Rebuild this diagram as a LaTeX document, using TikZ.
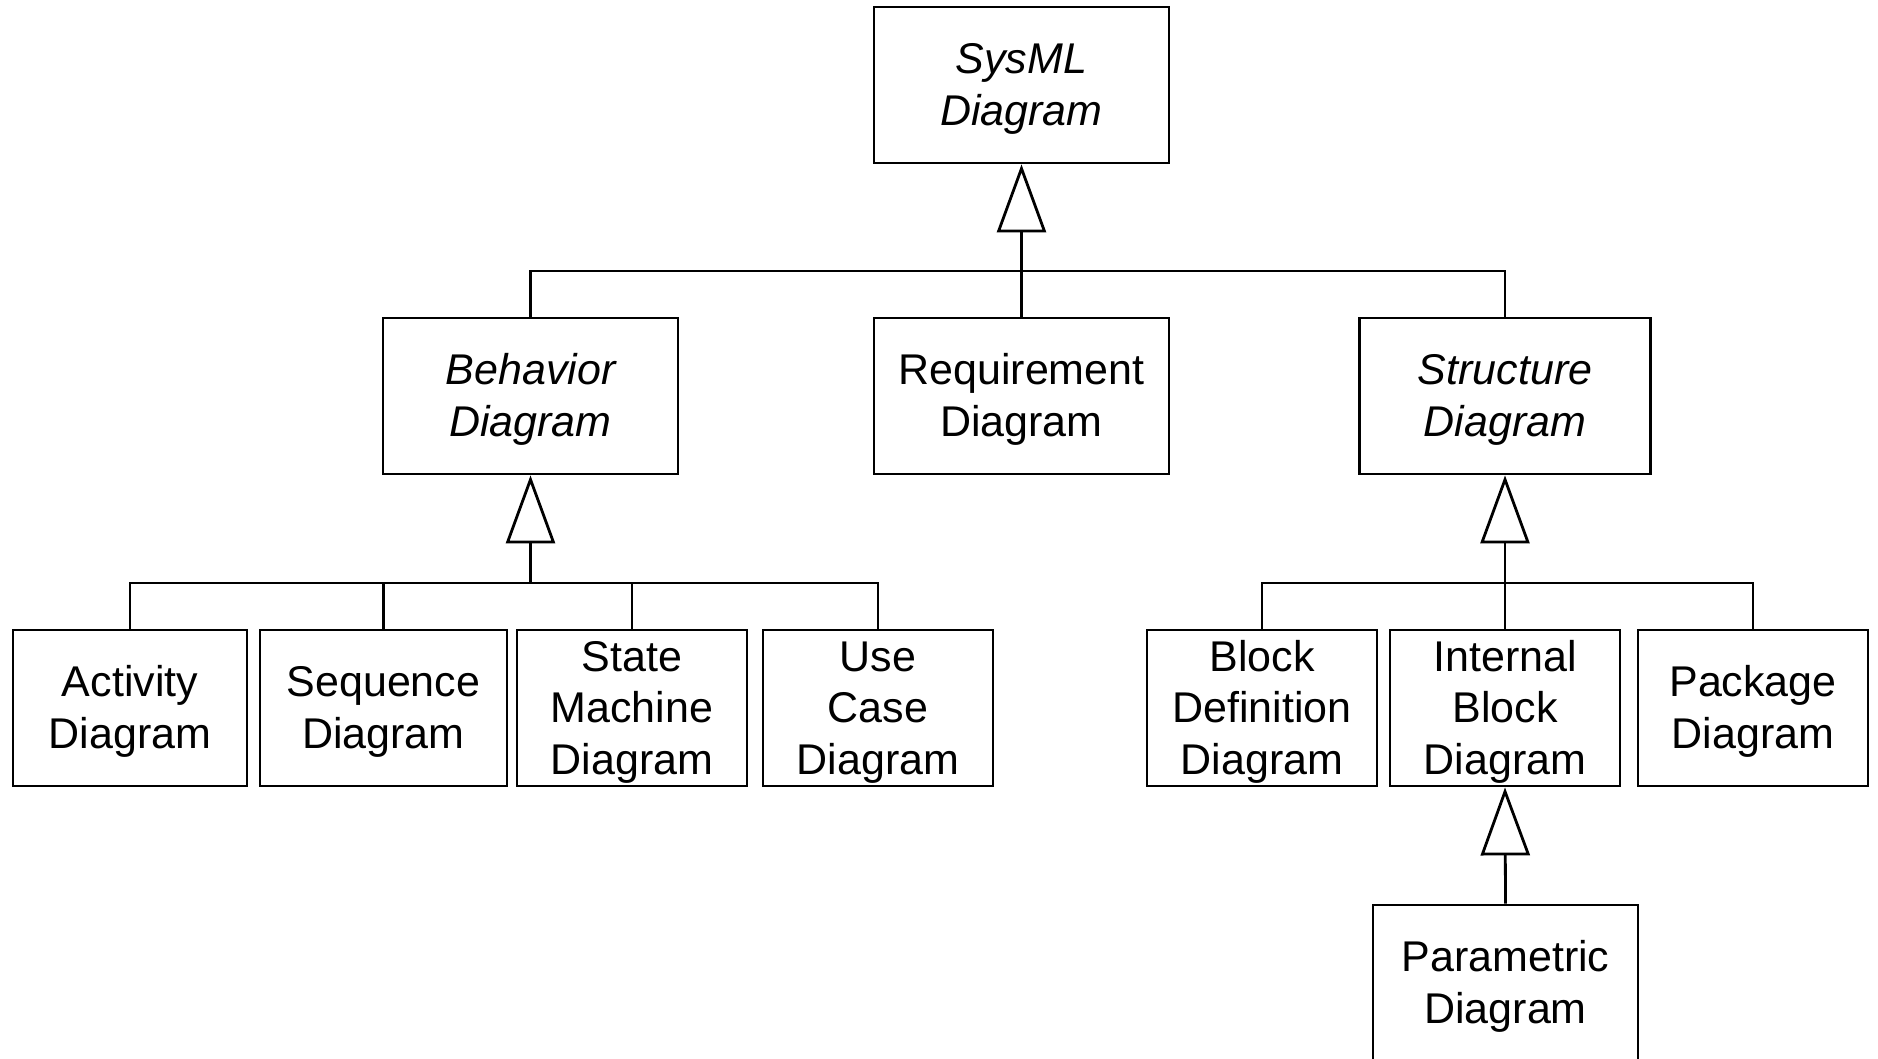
\documentclass[tikz,border=0pt]{standalone}
\usepackage{fontspec}
\setmainfont{Liberation Sans}
\usetikzlibrary{arrows.meta}

\newcommand{\boxstrut}{\rule{0pt}{38pt}}

\begin{document}
\begin{tikzpicture}[
		x=1pt, y=-1pt,
		line width=2.8pt,
		box/.style={draw, rectangle, inner sep=0pt, minimum height=156pt, align=center,
			font=\fontsize{43}{51.5}\selectfont},
		abstract/.style={box, font=\fontsize{43}{51.5}\selectfont\itshape},
		gen/.style={-{Triangle[open, length=68pt, width=49pt]}}
	]
		\useasboundingbox (0,0) rectangle (1878,1059);

		%top
		\node[abstract, minimum width=295pt] (sysml) at (1021.5,85) {\boxstrut SysML\\Diagram};

		%middle row
		\node[abstract, minimum width=295pt] (beh) at (530.5,396) {\boxstrut Behavior\\Diagram};
		\node[box, minimum width=295pt] (req) at (1021.5,396) {\boxstrut Requirement\\Diagram};
		\node[abstract, minimum width=291pt] (str) at (1505,396) {\boxstrut Structure\\Diagram};

		%behavior kinds
		\node[box, minimum width=234pt] (act) at (130,708) {\boxstrut Activity\\Diagram};
		\node[box, minimum width=247pt] (seq) at (383.5,708) {\boxstrut Sequence\\Diagram};
		\node[box, minimum width=230pt] (sm) at (632,708) {\boxstrut State\\Machine\\Diagram};
		\node[box, minimum width=230pt] (uc) at (878,708) {\boxstrut Use\\Case\\Diagram};

		%structure kinds
		\node[box, minimum width=230pt] (bdd) at (1262,708) {\boxstrut Block\\Definition\\Diagram};
		\node[box, minimum width=230pt] (ibd) at (1505,708) {\boxstrut Internal\\Block\\Diagram};
		\node[box, minimum width=230pt] (pkg) at (1753,708) {\boxstrut Package\\Diagram};
		\node[box, minimum width=265pt] (par) at (1505.5,983) {\boxstrut Parametric\\Diagram};

		%generalization to sysml
		\coordinate (topbar) at (1021.5,271);
		\draw[gen] (req.north) -- (sysml.south);
		\draw (beh.north) -- (beh.north |- topbar) -- (str.north |- topbar) -- (str.north);

		%generalization to behavior
		\coordinate (behbar) at (530.5,583);
		\draw[gen] (behbar) -- (beh.south);
		\draw (act.north) -- (act.north |- behbar) -- (uc.north |- behbar) -- (uc.north);
		\draw (seq.north) -- (seq.north |- behbar);
		\draw (sm.north) -- (sm.north |- behbar);

		%generalization to structure
		\coordinate (strbar) at (1505,583);
		\draw[gen] (ibd.north) -- (str.south);
		\draw (bdd.north) -- (bdd.north |- strbar) -- (pkg.north |- strbar) -- (pkg.north);

		%parametric
		\draw[gen] (par.north) -- (ibd.south);
	\end{tikzpicture}
\end{document}
